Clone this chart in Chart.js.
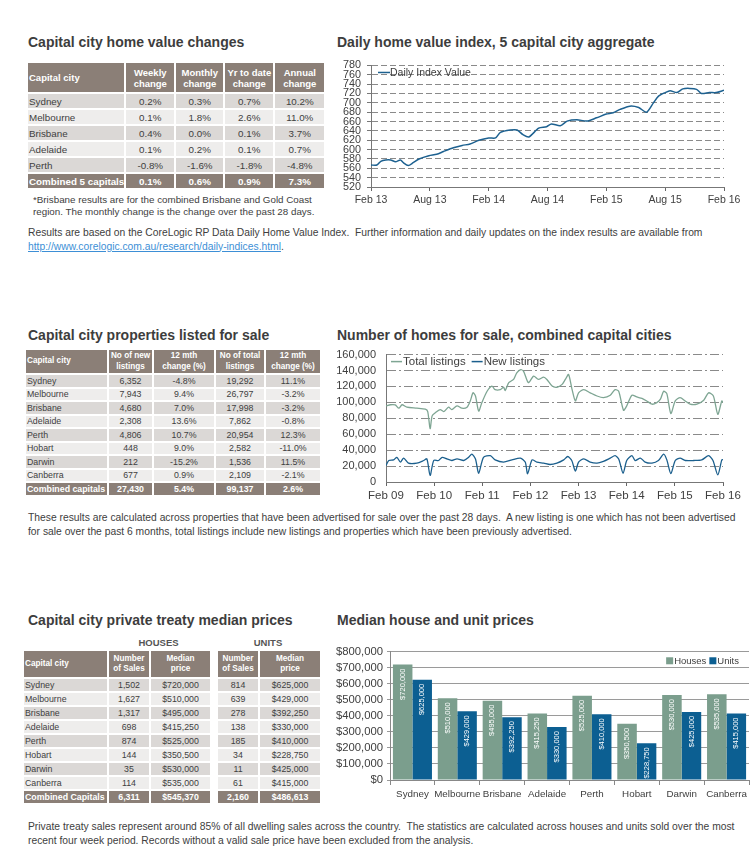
<!DOCTYPE html>
<html><head><meta charset="utf-8">
<script src="https://cdn.jsdelivr.net/npm/chart.js@4.4.1/dist/chart.umd.min.js"></script>
<style>
html,body{margin:0;padding:0;background:#fff;}
body{position:relative;width:754px;height:866px;overflow:hidden;font-family:"Liberation Sans",Arial,sans-serif;color:#404040;}
.title{position:absolute;font-weight:bold;font-size:14px;color:#3d3d3d;white-space:nowrap;line-height:16px;}
.para{position:absolute;font-family:"Liberation Sans",Arial,sans-serif;font-size:10.3px;line-height:13.5px;color:#404040;white-space:nowrap;}
.para a{color:#3d8fd6;text-decoration:underline;}
.foot{position:absolute;font-size:9.8px;line-height:12px;color:#404040;white-space:nowrap;}
table{position:absolute;border-collapse:separate;border-spacing:2px;table-layout:fixed;}
td{padding:0;overflow:hidden;white-space:nowrap;text-align:center;}
td.h{background:#8b7f77;color:#fff;font-weight:bold;}
td.c{text-align:left;padding-left:1px;}
tr.r0 td{background:#dbd8d6;}
tr.r1 td{background:#eeedec;}
tr.tot td{background:#8b7f77;color:#fff;font-weight:bold;}
td.sp{background:#fff !important;}
.t1 td{font-size:9.8px;}
.t1 td.h{font-size:9.5px;line-height:11px;}
.t2 td,.t3 td{font-size:8.8px;}
.t2 td.h,.t3 td.h{font-size:8.2px;line-height:10.5px;}
.chart{position:absolute;}
.lab{position:absolute;font-weight:bold;font-size:9.5px;color:#555;}
</style></head>
<body>
<div class="title" style="left:28px;top:34px;">Capital city home value changes</div>
<div class="title" style="left:337px;top:34px;">Daily home value index, 5 capital city aggregate</div>
<table class="t1" id="t1" style="left:26px;top:61px;"></table>
<div class="foot" style="left:33px;top:194px;">*Brisbane results are for the combined Brisbane and Gold Coast<br>region. The monthly change is the change over the past 28 days.</div>
<div class="chart" style="left:330px;top:53px;width:416px;height:157px;"><canvas id="c1"></canvas></div>
<div class="para" style="left:28px;top:226px;">Results are based on the CoreLogic RP Data Daily Home Value Index.&nbsp; Further information and daily updates on the index results are available from<br><a>http://www.corelogic.com.au/research/daily-indices.html</a>.</div>

<div class="title" style="left:28px;top:327px;">Capital city properties listed for sale</div>
<div class="title" style="left:337px;top:327px;">Number of homes for sale, combined capital cities</div>
<table class="t2" id="t2" style="left:24px;top:348px;"></table>
<div class="chart" style="left:330px;top:338px;width:416px;height:166px;"><canvas id="c2"></canvas></div>
<div class="para" style="left:28px;top:511px;">These results are calculated across properties that have been advertised for sale over the past 28 days.&nbsp; A new listing is one which has not been advertised<br>for sale over the past 6 months, total listings include new listings and properties which have been previously advertised.</div>

<div class="title" style="left:28px;top:612px;">Capital city private treaty median prices</div>
<div class="title" style="left:337px;top:612px;">Median house and unit prices</div>
<div class="lab" style="left:108px;width:101px;top:637px;text-align:center;">HOUSES</div>
<div class="lab" style="left:217px;width:102px;top:637px;text-align:center;">UNITS</div>
<table class="t3" id="t3" style="left:22px;top:649px;"></table>
<div class="chart" style="left:330px;top:641px;width:422px;height:161px;"><canvas id="c3"></canvas></div>
<div class="para" style="left:28px;top:820px;">Private treaty sales represent around 85% of all dwelling sales across the country.&nbsp; The statistics are calculated across houses and units sold over the most<br>recent four week period. Records without a valid sale price have been excluded from the analysis.</div>

<script>
// ---------- Table 1 data ----------
const t1Head = ['Capital city', 'Weekly<br>change', 'Monthly<br>change', 'Yr to date<br>change', 'Annual<br>change'];
const t1Cities = ['Sydney', 'Melbourne', 'Brisbane', 'Adelaide', 'Perth', 'Combined 5 capitals'];
const t1Weekly = ['0.2%', '0.1%', '0.4%', '0.1%', '-0.8%', '0.1%'];
const t1Monthly = ['0.3%', '1.8%', '0.0%', '0.2%', '-1.6%', '0.6%'];
const t1Ytd = ['0.7%', '2.6%', '0.1%', '0.1%', '-1.8%', '0.9%'];
const t1Annual = ['10.2%', '11.0%', '3.7%', '0.7%', '-4.8%', '7.3%'];

// ---------- Table 2 data ----------
const t2Head = ['Capital city', 'No of new<br>listings', '12 mth<br>change (%)', 'No of total<br>listings', '12 mth<br>change (%)'];
const t2Cities = ['Sydney', 'Melbourne', 'Brisbane', 'Adelaide', 'Perth', 'Hobart', 'Darwin', 'Canberra', 'Combined capitals'];
const t2New = ['6,352', '7,943', '4,680', '2,308', '4,806', '448', '212', '677', '27,430'];
const t2NewChg = ['-4.8%', '9.4%', '7.0%', '13.6%', '10.7%', '9.0%', '-15.2%', '0.9%', '5.4%'];
const t2Total = ['19,292', '26,797', '17,998', '7,862', '20,954', '2,582', '1,536', '2,109', '99,137'];
const t2TotalChg = ['11.1%', '-3.2%', '-3.2%', '-0.8%', '12.3%', '-11.0%', '11.5%', '-2.1%', '2.6%'];

// ---------- Table 3 / bar chart data ----------
const t3Head = ['Capital city', 'Number<br>of Sales', 'Median<br>price', 'Number<br>of Sales', 'Median<br>price'];
const cities = ['Sydney', 'Melbourne', 'Brisbane', 'Adelaide', 'Perth', 'Hobart', 'Darwin', 'Canberra'];
const houseSales = ['1,502', '1,627', '1,317', '698', '874', '144', '35', '114'];
const housePrice = [720000, 510000, 495000, 415250, 525000, 350500, 530000, 535000];
const unitSales = ['814', '639', '278', '138', '185', '34', '11', '61'];
const unitPrice = [625000, 429000, 392250, 330000, 410000, 228750, 425000, 415000];
const combinedRow = ['Combined Capitals', '6,311', '$545,370', '2,160', '$486,613'];

// ---------- Chart 1: daily index (x = months since Feb 13) ----------
const idxMonth = [0,0.6,1.0,1.5,2.0,2.5,3.0,3.3,3.8,4.3,4.9,5.9,6.7,7.4,8.4,9.3,10.1,11.0,12.0,12.7,13.2,14.2,14.9,15.5,16.1,17.1,17.9,18.4,19.3,20.0,21.0,22.0,23.0,24.0,24.7,25.4,26.4,27.3,28.1,28.8,29.3,30.0,30.5,31.2,31.8,32.5,33.2,33.7,34.5,35.2,36.0];
const idxValue = [567,567,575,578,578,574,578,572,566,572,580,587,590,596,604,609,612,620,625,625,637,642,642,632,627,646,649,655,651,661,664,661,668,676,679,686,693,690,680,700,714,722,726,722,730,731,729,720,722,722,727];
const idxTickLabels = ['Feb 13', 'Aug 13', 'Feb 14', 'Aug 14', 'Feb 15', 'Aug 15', 'Feb 16'];

// ---------- Chart 2: listings (x = months since Feb 09) ----------
const totMonth = [0,1.1,2.3,3.2,4.0,5.2,7.7,9.8,10.4,11.0,11.5,12.3,13.5,14.4,15.6,16.4,17.7,18.9,20.2,21.0,21.7,22.3,23.1,23.9,25.2,26.4,27.2,28.5,29.3,29.7,30.6,31.8,32.6,33.6,34.3,35.5,36.8,38.0,39.3,40.1,41.4,42.6,43.9,44.7,45.5,46.3,47.2,48.0,49.3,50.9,52.6,54.2,55.9,57.1,58.0,59.2,60.0,61.3,62.5,63.8,65.0,66.3,67.5,68.4,69.2,70.0,71.0,72.1,73.3,74.6,75.8,77.5,79.2,80.4,81.6,82.7,83.7,84];
const totListings = [95600,97000,96800,92700,97000,94000,92700,91400,88500,67000,83000,87000,91000,88500,94000,91000,95600,92700,94000,101800,112000,108000,89000,99700,114000,120500,116000,116000,119000,115000,124700,128800,137000,141000,139000,124700,133000,128800,131700,128800,120500,119000,122600,128800,135000,118000,101800,112000,116000,112000,108000,106000,109000,116000,114000,90000,95600,109000,106800,105000,101800,97700,99700,104000,114000,111000,86000,101800,106000,101800,97700,97700,102700,112000,108000,85000,101800,100000];
const newMonth = [0,0.7,1.9,2.7,3.6,4.4,5.6,7.7,9.4,10.2,11.0,11.9,13.1,14.0,15.2,16.4,17.7,19.4,20.6,21.4,22.3,23.1,24.3,26.0,27.2,29.3,31.4,33.5,34.7,35.3,36.4,37.6,39.3,40.9,42.6,44.3,45.3,46.3,47.2,48.0,49.3,50.9,52.6,54.2,55.9,57.1,58.0,59.1,60.0,61.3,62.1,63.4,64.6,66.3,67.9,69.2,70.0,71.0,72.1,73.3,74.6,76.7,78.7,80.4,81.5,82.7,83.7,84];
const newListings = [20800,27000,27800,31000,25000,30000,23700,23700,27000,29000,8300,27000,27000,31000,29000,27000,29000,27000,31000,35000,29000,11000,31000,33000,27800,25000,27800,30000,25000,10400,27800,25000,23700,22000,23700,27800,32000,27000,13700,25000,29000,25000,23700,26000,30000,33000,29000,11000,27000,33000,27000,30000,25000,23700,27000,35000,27800,10400,27000,30000,27000,27000,27800,33000,27000,9000,27800,28000];
const listTickLabels = ['Feb 09', 'Feb 10', 'Feb 11', 'Feb 12', 'Feb 13', 'Feb 14', 'Feb 15', 'Feb 16'];

// ---------- build tables ----------
function money(v){ return '$' + v.toLocaleString('en-US'); }
function buildTable(id, widths, headH, rowH, head, rows, totalIdx, spacerAt){
  const t = document.getElementById(id);
  let html = '<colgroup>';
  widths.forEach(w => html += '<col style="width:' + w + 'px">');
  html += '</colgroup>';
  html += '<tr style="height:' + headH + 'px">';
  head.forEach((h, i) => {
    if (spacerAt !== undefined && i === spacerAt) html += '<td class="sp"></td>';
    html += '<td class="h' + (i === 0 ? ' c' : '') + '">' + h + '</td>';
  });
  html += '</tr>';
  rows.forEach((r, ri) => {
    const cls = ri === totalIdx ? 'tot' : ('r' + (ri % 2));
    html += '<tr class="' + cls + '" style="height:' + rowH + 'px">';
    r.forEach((c, i) => {
      if (spacerAt !== undefined && i === spacerAt) html += '<td class="sp"></td>';
      html += '<td' + (i === 0 ? ' class="c"' : '') + '>' + c + '</td>';
    });
    html += '</tr>';
  });
  t.innerHTML = html;
}
buildTable('t1', [91, 48, 47, 48, 49], 29, 14, t1Head,
  t1Cities.map((c, i) => [c, t1Weekly[i], t1Monthly[i], t1Ytd[i], t1Annual[i]]), 5);
buildTable('t2', [81, 43, 60, 48, 54], 23, 11.5, t2Head,
  t2Cities.map((c, i) => [c, t2New[i], t2NewChg[i], t2Total[i], t2TotalChg[i]]), 8);
const t3Rows = cities.map((c, i) => [c, houseSales[i], money(housePrice[i]), unitSales[i], money(unitPrice[i])]);
t3Rows.push(combinedRow);
buildTable('t3', [83, 40, 59, 4, 40, 60], 26, 12, t3Head, t3Rows, 8, 3);

// ---------- charts ----------
Chart.defaults.font.family = '"Liberation Sans", Arial, sans-serif';
Chart.defaults.color = '#404040';
Chart.defaults.animation = false;

// legend drawn inside the plot area
const inLegend = {
  id: 'inLegend',
  afterDatasetsDraw(chart, args, o) {
    const ctx = chart.ctx, a = chart.chartArea;
    ctx.save();
    ctx.font = o.size + 'px "Liberation Sans", Arial, sans-serif';
    ctx.textBaseline = 'middle';
    const items = chart.data.datasets.map(ds => ({ text: ds.label, color: o.style === 'line' ? ds.borderColor : ds.backgroundColor }));
    const widths = items.map(it => o.swatch + o.gap + ctx.measureText(it.text).width);
    const total = widths.reduce((s, w) => s + w, 0) + o.itemGap * (items.length - 1);
    let x = o.align === 'end' ? a.right - o.dx - total : a.left + o.dx;
    const y = a.top + o.dy;
    items.forEach((it, i) => {
      if (o.style === 'line') {
        ctx.strokeStyle = it.color; ctx.lineWidth = 1.5;
        ctx.beginPath(); ctx.moveTo(x, y); ctx.lineTo(x + o.swatch, y); ctx.stroke();
      } else {
        ctx.fillStyle = it.color; ctx.fillRect(x, y - o.swatch / 2, o.swatch, o.swatch);
      }
      ctx.fillStyle = '#404040';
      ctx.fillText(it.text, x + o.swatch + o.gap, y + 0.5);
      x += widths[i] + o.itemGap;
    });
    ctx.restore();
  }
};

new Chart(document.getElementById('c1'), {
  type: 'line',
  data: { datasets: [{
    label: 'Daily Index Value',
    data: idxMonth.map((m, i) => ({x: m, y: idxValue[i]})),
    borderColor: '#1d6190', borderWidth: 1.5, pointRadius: 0, tension: 0.25
  }]},
  options: {
    responsive: true, maintainAspectRatio: false,
    layout: { padding: { top: 8, right: 22, bottom: 0, left: 0 } },
    plugins: {
      legend: { display: false },
      tooltip: { enabled: false },
      inLegend: { style: 'line', size: 10.5, swatch: 12, gap: 0, itemGap: 4, dx: 7, dy: 7, align: 'start' }
    },
    scales: {
      x: { type: 'linear', min: 0, max: 36,
        afterFit: s => { s.height = 23; },
        ticks: { stepSize: 6, autoSkip: false, maxRotation: 0, font: { size: 10.5 },
          callback: v => idxTickLabels[v / 6] },
        grid: { drawOnChartArea: false, tickLength: 4, color: '#666' },
        border: { color: '#777' } },
      y: { min: 520, max: 780,
        afterFit: s => { s.width = 41; },
        ticks: { stepSize: 20, autoSkip: false, font: { size: 10.8 }, padding: 6 },
        grid: { color: '#8a8a8a', tickLength: 4, tickColor: '#777' },
        border: { color: '#777', dash: [6, 3] } }
    }
  },
  plugins: [inLegend]
});

new Chart(document.getElementById('c2'), {
  type: 'line',
  data: { datasets: [
    { label: 'Total listings', data: totMonth.map((m, i) => ({x: m, y: totListings[i]})),
      borderColor: '#7ea593', borderWidth: 1.3, pointRadius: 0, tension: 0.25 },
    { label: 'New listings', data: newMonth.map((m, i) => ({x: m, y: newListings[i]})),
      borderColor: '#1b5f8d', borderWidth: 1.3, pointRadius: 0, tension: 0.25 }
  ]},
  options: {
    responsive: true, maintainAspectRatio: false,
    layout: { padding: { top: 8, right: 23, bottom: 0, left: 0 } },
    plugins: {
      legend: { display: false },
      tooltip: { enabled: false },
      inLegend: { style: 'line', size: 11.5, swatch: 11, gap: 1, itemGap: 6, dx: 5, dy: 7, align: 'start' }
    },
    scales: {
      x: { type: 'linear', min: 0, max: 84,
        afterFit: s => { s.height = 22; },
        ticks: { stepSize: 12, autoSkip: false, maxRotation: 0, font: { size: 11.5 },
          callback: v => listTickLabels[v / 12] },
        grid: { drawOnChartArea: false, tickLength: 4, color: '#666' },
        border: { color: '#777' } },
      y: { min: 0, max: 160000,
        afterFit: s => { s.width = 56; },
        ticks: { stepSize: 20000, autoSkip: false, font: { size: 11 }, padding: 10,
          callback: v => v.toLocaleString('en-US') },
        grid: { color: '#8a8a8a', drawTicks: false },
        border: { color: '#777', dash: [9, 3, 2, 3] } }
    }
  },
  plugins: [inLegend]
});

const barLabels = {
  id: 'barLabels',
  afterDatasetsDraw(chart) {
    const ctx = chart.ctx;
    ctx.save();
    ctx.fillStyle = '#ffffff';
    ctx.font = '7.5px "Liberation Sans", Arial, sans-serif';
    ctx.textAlign = 'right';
    ctx.textBaseline = 'middle';
    chart.data.datasets.forEach((ds, di) => {
      chart.getDatasetMeta(di).data.forEach((bar, i) => {
        ctx.save();
        ctx.translate(bar.x, bar.y + 4);
        ctx.rotate(-Math.PI / 2);
        ctx.fillText(money(ds.data[i]), 0, 0);
        ctx.restore();
      });
    });
    ctx.restore();
  }
};

new Chart(document.getElementById('c3'), {
  type: 'bar',
  data: { labels: cities, datasets: [
    { label: 'Houses', data: housePrice, backgroundColor: '#7b9e8d', categoryPercentage: 0.87, barPercentage: 1.0 },
    { label: 'Units', data: unitPrice, backgroundColor: '#0c5f92', categoryPercentage: 0.87, barPercentage: 1.0 }
  ]},
  options: {
    responsive: true, maintainAspectRatio: false,
    layout: { padding: { top: 8, right: 3, bottom: 0, left: 0 } },
    plugins: {
      legend: { display: false },
      tooltip: { enabled: false },
      inLegend: { style: 'box', size: 9.5, swatch: 7, gap: 1, itemGap: 3, dx: 10, dy: 9, align: 'end' }
    },
    scales: {
      x: { afterFit: s => { s.height = 22; },
        ticks: { font: { size: 9.8 }, maxRotation: 0, autoSkip: false },
        grid: { offset: true, drawOnChartArea: false, tickLength: 5, color: '#888' },
        border: { color: '#888' } },
      y: { min: 0, max: 800000,
        afterFit: s => { s.width = 60; },
        ticks: { stepSize: 100000, autoSkip: false, font: { size: 11.3 }, padding: 4, callback: v => money(v) },
        grid: { color: '#9a9a9a', tickLength: 3 },
        border: { color: '#888' } }
    }
  },
  plugins: [barLabels, inLegend]
});
</script>
</body></html>
